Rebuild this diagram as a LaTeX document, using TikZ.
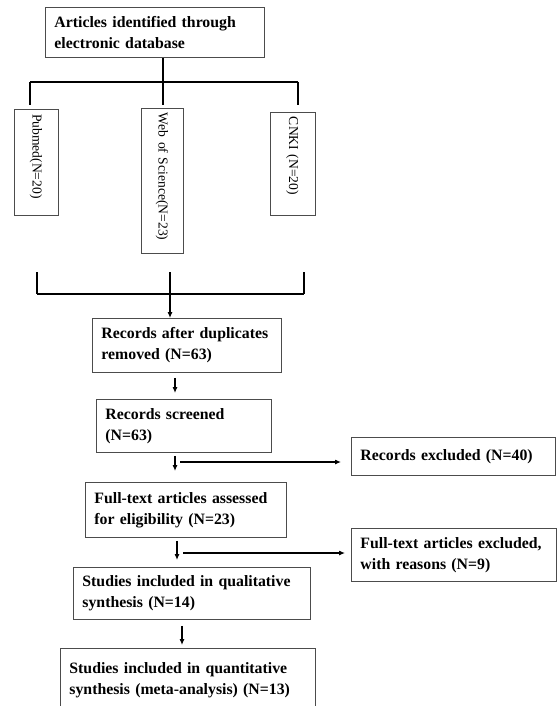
\documentclass[tikz,border=0pt]{standalone}
\usepackage{fontspec}
\setmainfont{Liberation Serif}
\usetikzlibrary{arrows.meta,positioning,calc}
\tikzset{
  stage/.style={draw=black!70, line width=0.9pt, anchor=north west, align=left,
    inner xsep=9pt, inner ysep=0pt, font=\bfseries\fontsize{15.8}{21}\selectfont},
  source/.style={draw=black!70, line width=0.9pt, rotate=-90, align=left,
    inner xsep=5pt, inner ysep=0pt, font=\fontsize{13.6}{16}\selectfont},
  flow/.style={-{Latex[length=6pt,width=5pt]}, line width=1.1pt},
  link/.style={line width=1.1pt}
}
% name, left, top, right, bottom, text
\newcommand{\stagebox}[6]{
  \pgfmathsetmacro\bw{#4-#2}
  \pgfmathsetmacro\bh{#5-#3}
  \pgfmathsetmacro\tw{#4-#2-18}
  \node[stage, minimum width=\bw pt, minimum height=\bh pt, text width=\tw pt] (#1) at (#2,#3) {#6};
}
\begin{document}
\begin{tikzpicture}[x=1pt,y=-1pt]
\useasboundingbox (0,0) rectangle (557,706);

\stagebox{top}{45}{7}{264}{57}{Articles identified through\\electronic database}

% databases
\foreach \s/\x/\y/\w/\h/\t in {pubmed/36/162/44/106/{Pubmed(N=20)},
    wos/162/180.5/42/145/{Web of Science(N=23)},
    cnki/292.5/163.5/45/103/{CNKI (N=20)}}
{
  \pgfmathsetmacro\tw{\h-10}
  \node[source, minimum width=\h pt, minimum height=\w pt, text width=\tw pt] (\s) at (\x,\y) {\t};
}

\coordinate (fan) at (163,82);
\draw[link] (top.south -| fan) -- (fan);
\draw[link] (30,82) -- (298,82);
\foreach \x in {30,163,298}
  \draw[link] (\x,82) -- (\x,105);

\coordinate (join) at (170,294);
\foreach \x in {37,170,304}
  \draw[link] (\x,272) -- (\x,294);
\draw[link] (37,294) -- (304,294);

\stagebox{dup}{92}{318}{281}{372}{Records after duplicates\\removed (N=63)}
\stagebox{screen}{96}{399}{271}{452}{Records screened\\(N=63)}
\stagebox{full}{85}{482}{286}{537}{Full-text articles assessed\\for eligibility (N=23)}
\stagebox{qual}{73}{567}{310}{619}{Studies included in qualitative\\synthesis (N=14)}
\stagebox{quant}{60}{648}{315}{712}{Studies included in quantitative\\synthesis (meta-analysis) (N=13)}
\stagebox{excl}{351}{437}{555}{475}{Records excluded (N=40)}
\stagebox{fexcl}{351}{528}{556}{581}{Full-text articles excluded,\\with reasons (N=9)}

\draw[flow] (join) -- (dup.north -| join);

\coordinate (c1) at (175,0);
\coordinate (c2) at (177,0);
\coordinate (c3) at (182,0);
\draw[flow, shorten <=5pt, shorten >=6pt] (dup.south -| c1) -- (screen.north -| c1);
\draw[flow, shorten <=3pt, shorten >=11pt] (screen.south -| c1) -- (full.north -| c1);
\draw[flow, shorten <=3pt, shorten >=7pt] (full.south -| c2) -- (qual.north -| c2);
\draw[flow, shorten <=6pt, shorten >=3pt] (qual.south -| c3) -- (quant.north -| c3);

\coordinate (h1) at (180,462);
\coordinate (h2) at (183,553);
\draw[flow, shorten >=10pt] (h1) -- (h1 -| excl.west);
\draw[flow, shorten >=6pt] (h2) -- (h2 -| fexcl.west);
\end{tikzpicture}
\end{document}
